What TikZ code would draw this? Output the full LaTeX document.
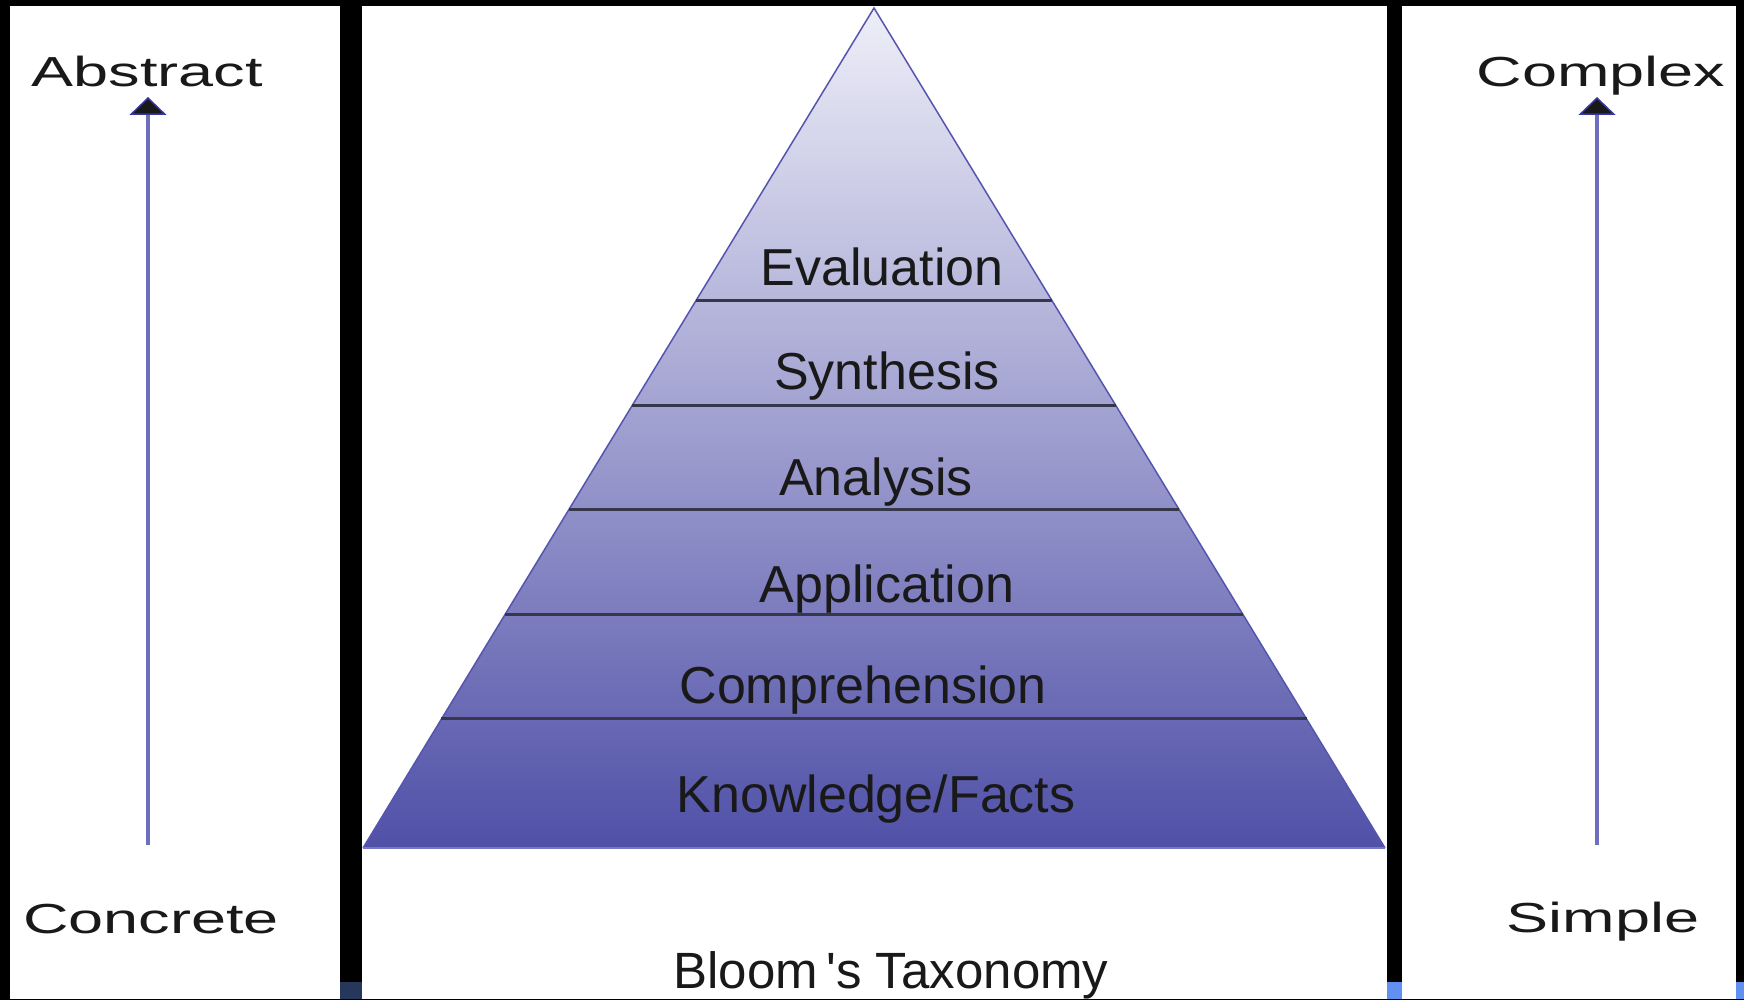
\documentclass[tikz,border=0pt]{standalone}
\usepackage{fontspec}
\setmainfont{Liberation Sans}
\usetikzlibrary{arrows.meta,calc}
\definecolor{trtop}{RGB}{238,238,248}
\definecolor{trbot}{RGB}{80,80,168}
\definecolor{edgeblue}{RGB}{85,85,175}
\definecolor{basecol}{RGB}{120,120,200}
\definecolor{divider}{RGB}{55,55,75}
\definecolor{arrowblue}{RGB}{110,110,190}
\definecolor{arrowtip}{RGB}{55,55,160}
\definecolor{navycol}{RGB}{37,55,90}
\definecolor{lightbluecol}{RGB}{96,144,240}
\begin{document}
\begin{tikzpicture}[x=1pt,y=-1pt,
  level/.style={font=\fontsize{52}{60}\selectfont, anchor=base, inner sep=0pt, text=black!90},
  side/.style={font=\fontsize{42}{50}\selectfont, anchor=base, inner sep=0pt, xscale=1.5, text=black!90},
  axisarrow/.style={draw=arrowblue, line width=3.5pt,
    -{Triangle[length=18pt,width=37pt,color=arrowtip,fill=black!90,line width=1.5pt]}},
  divline/.style={draw=divider, line width=3pt}
]
\useasboundingbox (0,0) rectangle (1744,1000);
% frame and panels
\fill[black] (0,0) rectangle (1744,1000);
\fill[white] (10,6) rectangle (340,999);
\fill[white] (362,6) rectangle (1387,999);
\fill[white] (1402,6) rectangle (1736,999);
\fill[navycol] (340,982) rectangle (362,999);
\fill[lightbluecol] (1387,982) rectangle (1402,999);
\fill[lightbluecol] (1736,982) rectangle (1744,999);
% pyramid
\coordinate (apex) at (874,8);
\coordinate (bl) at (363,848);
\coordinate (br) at (1385,848);
\shade[top color=trtop, bottom color=trbot] (apex) -- (br) -- (bl) -- cycle;
\draw[edgeblue, line width=1.5pt] (bl) -- (apex) -- (br);
\draw[basecol, line width=2pt] (bl) -- (br);
% dividers
\coordinate (d1l) at ($(apex)!0.3488!(bl)$); \coordinate (d1r) at ($(apex)!0.3488!(br)$);
\coordinate (d2l) at ($(apex)!0.4732!(bl)$); \coordinate (d2r) at ($(apex)!0.4732!(br)$);
\coordinate (d3l) at ($(apex)!0.5976!(bl)$); \coordinate (d3r) at ($(apex)!0.5976!(br)$);
\coordinate (d4l) at ($(apex)!0.7220!(bl)$); \coordinate (d4r) at ($(apex)!0.7220!(br)$);
\coordinate (d5l) at ($(apex)!0.8464!(bl)$); \coordinate (d5r) at ($(apex)!0.8464!(br)$);
\draw[divline] (d1l) -- (d1r);
\draw[divline] (d2l) -- (d2r);
\draw[divline] (d3l) -- (d3r);
\draw[divline] (d4l) -- (d4r);
\draw[divline] (d5l) -- (d5r);
% level labels
\node[level] (eval) at (882,285) {Evaluation};
\node[level] (synth) at (887,389) {Synthesis};
\node[level] (anal) at (876,495) {Analysis};
\node[level] (appl) at (887,602) {Application};
\node[level] (comp) at (863,703) {Comprehension};
\node[level] (know) at (876,812) {Knowledge/Facts};
\node[level, font=\fontsize{51}{60}\selectfont] (title) at (891,988) {Bloom\,\XeTeXglyph\XeTeXglyphindex "quotesingle"\relax s Taxonomy};
% side labels
\node[side] (abs) at (147,87) {Abstract};
\node[side] (conc) at (151,933) {Concrete};
\node[side] (cplx) at (1601,87) {Complex};
\node[side] (simp) at (1603,932) {Simple};
% axis arrows
\coordinate (lbot) at (148,845); \coordinate (ltop) at (148,97);
\coordinate (rbot) at (1597,845); \coordinate (rtop) at (1597,97);
\draw[axisarrow] (lbot) -- (ltop);
\draw[axisarrow] (rbot) -- (rtop);
\end{tikzpicture}
\end{document}
